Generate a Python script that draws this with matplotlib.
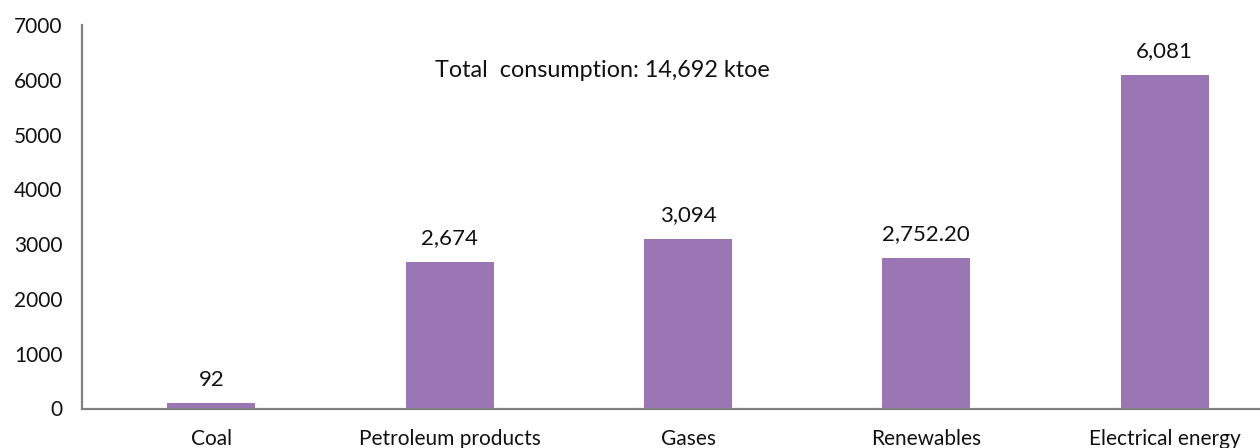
import matplotlib
matplotlib.use("Agg")
import matplotlib.pyplot as plt

plt.rcParams['font.family'] = ['Lato', 'DejaVu Sans']

categories = ["Coal", "Petroleum products", "Gases", "Renewables", "Electrical energy"]
values = [92, 2674, 3094, 2752.20, 6081]
value_labels = ["92", "2,674", "3,094", "2,752.20", "6,081"]
total_text = "Total  consumption: 14,692 ktoe"
yticks = [0, 1000, 2000, 3000, 4000, 5000, 6000, 7000]

W, H = 1260, 448
fig = plt.figure(figsize=(W / 100, H / 100), dpi=100)
left, right, top, bottom = 82, 1260, 25, 408.5
ax = fig.add_axes([left / W, 1 - bottom / H, (right - left) / W, (bottom - top) / H])

bar_color = "#9b76b4"
x = list(range(len(categories)))
ax.bar(x, values, width=0.37, color=bar_color, zorder=2)

for xi, v, lab in zip(x, values, value_labels):
    ax.annotate(lab, (xi, v), xytext=(0, 10), textcoords="offset points",
                ha="center", va="bottom", fontsize=16, color="#111111")

ax.text(1.64, 6178, total_text, ha="center", va="center", fontsize=16.8, color="#111111")

ax.set_xlim(-0.543, 4.40)
ax.set_ylim(0, 7000)
ax.set_yticks(yticks)
ax.set_yticklabels([str(t) for t in yticks])
ax.set_xticks(x)
ax.set_xticklabels(categories)

for side in ("top", "right"):
    ax.spines[side].set_visible(False)
for side in ("left", "bottom"):
    ax.spines[side].set_color("#808080")
    ax.spines[side].set_linewidth(1.6)

ax.tick_params(axis="both", length=0, labelsize=15, colors="#111111")
ax.tick_params(axis="y", pad=14)
ax.tick_params(axis="x", pad=15)

fig.savefig("out.png", dpi=100, facecolor="white")
